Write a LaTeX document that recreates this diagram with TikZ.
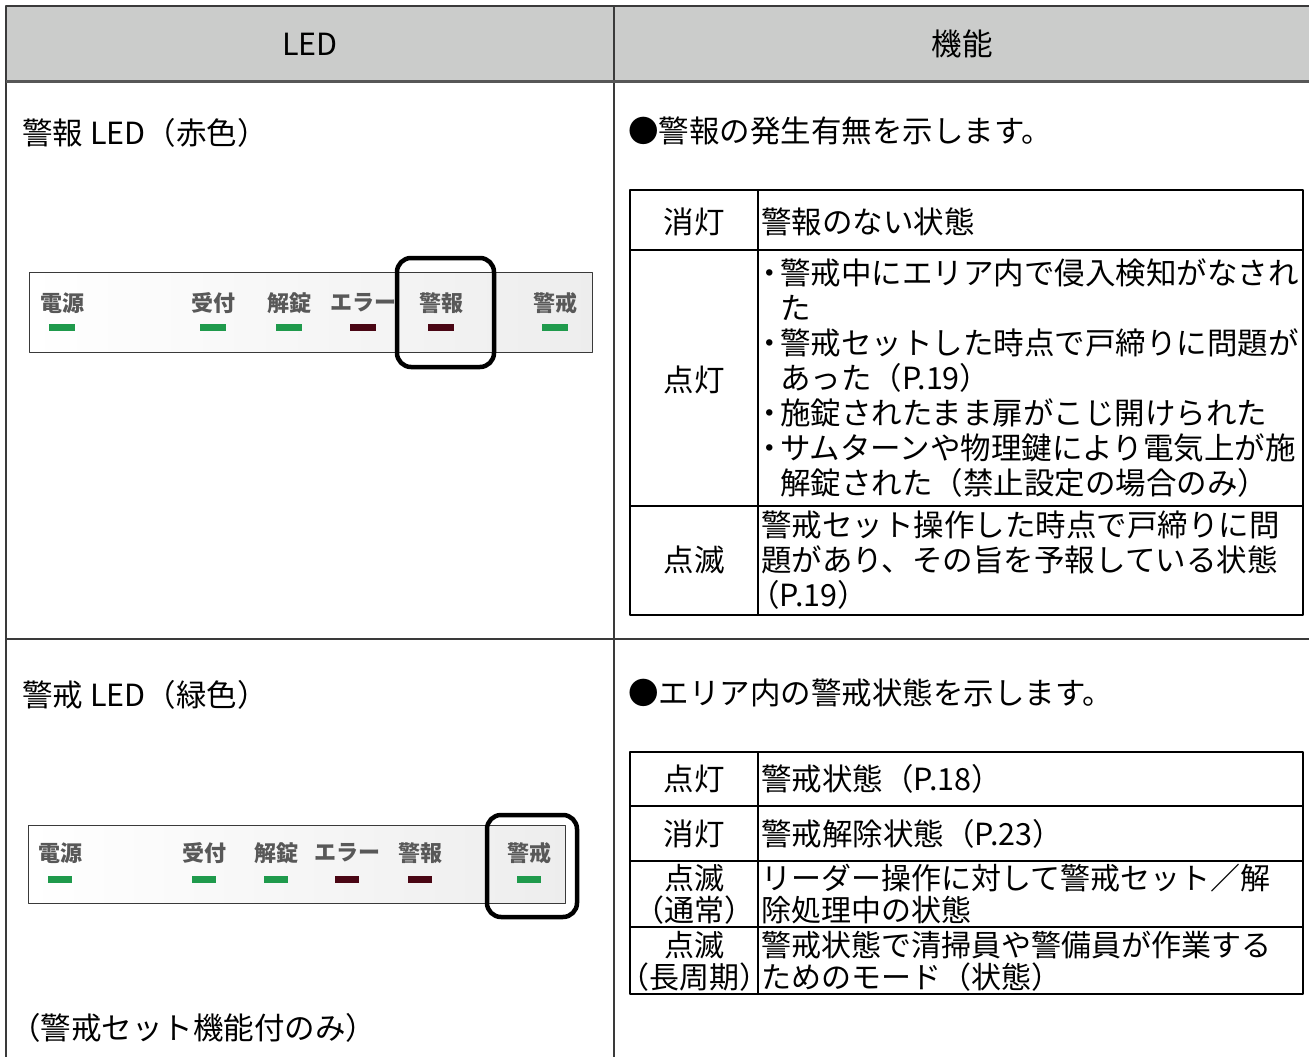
\documentclass[tikz,border=0pt]{standalone}
\usepackage{fontspec}
\setmainfont{Noto Sans CJK JP}
\definecolor{hdgray}{HTML}{CBCCCB}
\definecolor{rulegray}{HTML}{3A3A3A}
\definecolor{ledgreen}{HTML}{1F9A4C}
\definecolor{ledred}{HTML}{4A0614}
\definecolor{lblgray}{HTML}{585858}
\newcommand\kakkoL{\makebox[0.6em][r]{（}}
\newcommand\kakkoR{\makebox[0.6em][l]{）}}
\newcommand\dotmark{\makebox[0.65em]{・}}
\newcommand\indt{\hspace*{0.65em}}
\tikzset{
  cell/.style={inner sep=0pt, font=\fontsize{30.5}{35}\selectfont},
  twoline/.style={cell, font=\fontsize{30}{32}\selectfont},
  paneltxt/.style={inner sep=0pt, text=lblgray, font=\fontsize{22}{22}\selectfont\bfseries},
  rule/.style={rulegray, line width=1.5pt},
  subtab/.style={black, line width=1.8pt},
  ledpanel/.style={left color=white, right color=gray!14, draw=rulegray, line width=1pt},
  hilite/.style={line width=4.5pt, rounded corners=14pt}
}
\begin{document}
\begin{tikzpicture}[x=1pt, y=-1pt, line join=round]
            \useasboundingbox (0,0) rectangle (1309,1057);
            \def\xl{6}
            \def\xm{614}
            \def\xr{1309}
            \def\ca{630}
            \def\cb{758}
            \def\cc{1303}
            \fill[hdgray] (\xl,6) rectangle (\xr,81);
            \draw[rule] (\xr,6)--(\xl,6)--(\xl,1057) (\xm,6)--(\xm,1057) (\xl,639)--(\xr,639);
            \draw[rulegray!85, line width=3pt] (\xl,81)--(\xr,81);
            \node[cell] (hled) at (310,44) {LED};
            \node[cell] (hfunc) at (962,44) {機能};
            % alarm LED
            \node[cell, anchor=west] (alarmled) at (22,133) {警報 LED（赤色）};
            \node[cell, anchor=west] (alarmfn) at (628,131) {●警報の発生有無を示します。};
            \shade[ledpanel] (29,272) rectangle (592,352);
            \foreach \lbl/\x/\c [count=\i] in {電源/62/ledgreen, 受付/213/ledgreen, 解錠/289/ledgreen, エラー/363/ledred, 警報/441/ledred, 警戒/555/ledgreen}{
                \node[paneltxt] (pa\i) at (\x,303) {\lbl};
                \fill[\c] (\x-13,324) rectangle (\x+13,331);
            }
            \draw[hilite] (397,258) rectangle (494,367);
            \draw[subtab] (\ca,190) rectangle (\cc,615) (\cb,190)--(\cb,615) (\ca,250)--(\cc,250) (\ca,506)--(\cc,506);
            \node[cell] (aoffk) at (694,222) {消灯};
            \node[cell, anchor=west] (aoff) at (761,222) {警報のない状態};
            \node[cell] (aonk) at (694,380) {点灯};
            \node[cell, anchor=west, align=left] (aon) at (760,378) {\dotmark 警戒中にエリア内で侵入検知がなされ\\\indt た\\\dotmark 警戒セットした時点で戸締りに問題が\\\indt あった（P.19）\\\dotmark 施錠されたまま扉がこじ開けられた\\\dotmark サムターンや物理鍵により電気上が施\\\indt 解錠された（禁止設定の場合のみ）};
            \node[cell] (ablk) at (694,560) {点滅};
            \node[cell, anchor=west, align=left] (abl) at (761,560) {警戒セット操作した時点で戸締りに問\\題があり、その旨を予報している状態\\\kakkoL P.19\kakkoR};
            % guard LED
            \node[cell, anchor=west] (guardled) at (22,695) {警戒 LED（緑色）};
            \node[cell, anchor=west] (guardfn) at (628,693) {●エリア内の警戒状態を示します。};
            \shade[ledpanel] (28,825) rectangle (565,903);
            \foreach \lbl/\x/\c [count=\i] in {電源/60/ledgreen, 受付/204/ledgreen, 解錠/276/ledgreen, エラー/347/ledred, 警報/420/ledred, 警戒/529/ledgreen}{
                \node[paneltxt] (pb\i) at (\x,853) {\lbl};
                \fill[\c] (\x-12,876) rectangle (\x+12,883);
            }
            \draw[hilite] (487,815) rectangle (577,917);
            \node[cell, anchor=west] (guardnote) at (22,1028) {\kakkoL 警戒セット機能付のみ\kakkoR};
            \draw[subtab] (\ca,752) rectangle (\cc,994) (\cb,752)--(\cb,994) (\ca,806)--(\cc,806) (\ca,861)--(\cc,861) (\ca,927)--(\cc,927);
            \node[cell] (gonk) at (694,779) {点灯};
            \node[cell, anchor=west] (gon) at (761,779) {警戒状態（P.18）};
            \node[cell] (goffk) at (694,834) {消灯};
            \node[cell, anchor=west] (goff) at (761,834) {警戒解除状態（P.23）};
            \node[twoline, align=center] (gblk) at (694,894) {点滅\\\kakkoL 通常\kakkoR};
            \node[twoline, anchor=west, align=left] (gbl) at (761,894) {リーダー操作に対して警戒セット／解\\除処理中の状態};
            \node[twoline, align=center] (glongk) at (694,961) {点滅\\\kakkoL 長周期\kakkoR};
            \node[twoline, anchor=west, align=left] (glong) at (761,961) {警戒状態で清掃員や警備員が作業する\\ためのモード（状態）};
        \end{tikzpicture}
\end{document}
